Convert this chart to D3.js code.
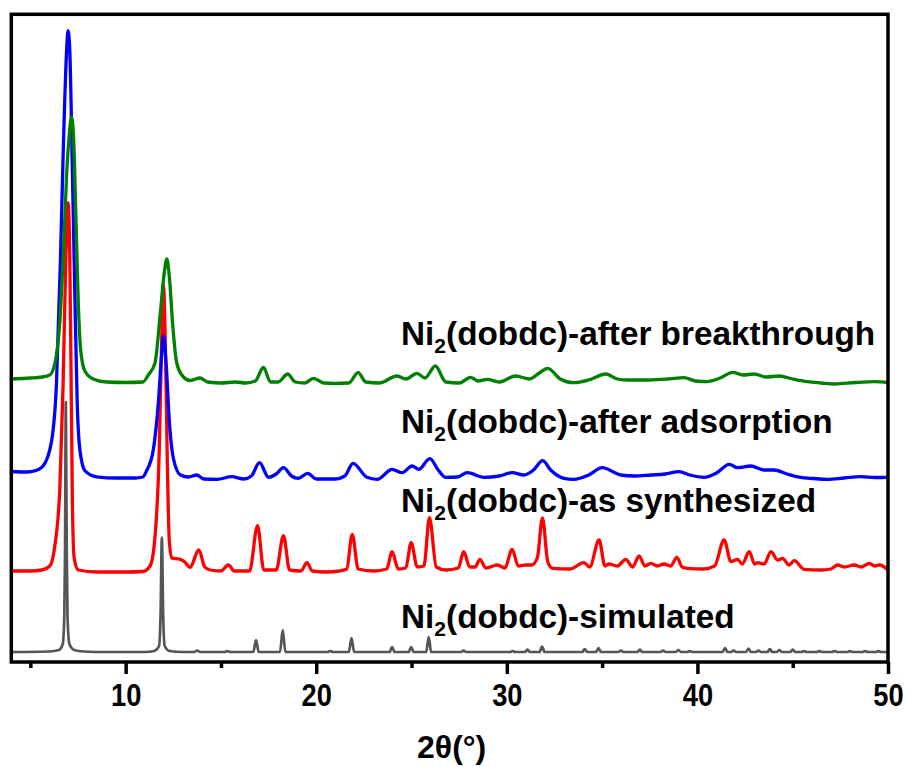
<!DOCTYPE html>
<html>
<head>
<meta charset="utf-8">
<script src="https://cdn.jsdelivr.net/npm/d3@7"></script>
<style>
  body { margin: 0; background: #fff; }
  text { font-family: "Liberation Sans", Arial, sans-serif; font-weight: bold; }
</style>
</head>
<body>
<svg id="chart" width="905" height="767"></svg>
<script>
// XRD patterns, [2theta, intensity (a.u., stacked offsets included)]
var breakthrough = [[4.0,283],[5.0,284],[5.6,285],[6.02,287],[6.29,299],[6.55,341],[6.72,403],[6.9,486],[7.04,527],[7.16,545],[7.28,519],[7.39,445],[7.51,362],[7.64,312],[7.86,291],[8.3,283],[9.0,280],[10.0,279.5],[10.9,280],[11.19,287],[11.54,299],[11.8,345],[12.03,390],[12.16,403],[12.29,386],[12.47,337],[12.68,299],[13.03,285],[13.38,281.5],[13.9,284],[14.3,280],[15.0,279],[15.75,280],[16.3,279],[16.8,281],[17.23,294.5],[17.6,280],[18.0,280],[18.5,288],[18.9,280],[19.4,279],[19.86,283.7],[20.4,279],[21.0,278.7],[21.7,279],[22.2,289.3],[22.6,280],[23.3,279],[24.24,286],[24.7,283],[25.29,288.7],[25.7,284],[26.25,296],[26.8,280],[27.5,279],[28.1,284.7],[28.5,281],[28.97,282.7],[29.6,280],[30.46,286],[31.2,283],[31.7,289],[32.15,293.7],[32.8,283],[33.5,279.3],[34.3,282],[35.19,288],[35.8,283],[36.3,282],[37.5,282],[38.5,283],[39.3,284.3],[39.9,281],[40.5,280.3],[41.2,284],[41.85,289.7],[42.4,287],[42.98,288],[43.6,285],[44.3,286],[45.0,283],[45.77,280.3],[46.5,279],[47.2,278],[48.3,279.5],[49.3,280.3],[50.0,279.3]];

var adsorption = [[4.0,190.5],[4.8,190],[5.3,191.5],[5.67,196],[6.11,220.5],[6.37,278.6],[6.58,403],[6.72,507],[6.9,610.5],[6.98,631.3],[7.07,610.5],[7.21,486],[7.34,362],[7.46,258],[7.6,212],[7.86,191.4],[8.48,185.2],[9.5,184],[10.5,184],[10.9,185],[11.1,191.4],[11.45,212],[11.71,258],[11.89,308],[11.98,326],[12.12,299.3],[12.29,241.2],[12.5,204],[12.86,187.3],[13.3,185],[13.73,187],[14.1,183],[14.8,182.7],[15.57,185.3],[16.2,183],[16.6,186],[17.02,199.3],[17.5,184.7],[17.9,188],[18.28,194.3],[18.7,186],[19.07,183.7],[19.55,188.7],[20.0,183],[21.0,183],[21.5,186],[21.93,198.7],[22.66,184.7],[23.2,182.7],[23.98,192.7],[24.5,189.3],[25.03,196],[25.38,192.7],[25.96,203.3],[26.4,192],[26.78,184.7],[27.4,185],[27.92,189.3],[28.8,184.7],[29.6,186],[30.28,189.3],[30.9,187],[31.4,192],[31.88,201.3],[32.3,192],[33.0,183.7],[33.5,182.7],[34.3,187],[35.0,194.3],[35.98,187],[36.7,186],[37.55,187],[38.3,188],[39.04,190.3],[39.6,187],[40.35,184.7],[41.0,189],[41.67,197.7],[42.1,194.3],[42.8,196],[43.5,192],[44.03,192],[44.7,188],[45.4,184.7],[46.1,183.5],[46.8,182.7],[47.7,184],[48.57,185.3],[49.3,184.5],[50.0,184.7]];

var synthesized = [[4.0,91],[5.0,91],[5.6,92],[6.02,96],[6.29,117],[6.55,175],[6.72,279],[6.86,403],[6.98,459],[7.07,403],[7.14,279],[7.21,154],[7.3,104],[7.51,92],[8.5,90],[10.0,90],[10.9,90.5],[11.28,96],[11.54,125],[11.77,216],[11.91,341],[11.98,377],[12.08,320],[12.19,195.4],[12.29,121],[12.42,104],[12.86,102.7],[13.1,100],[13.38,94.7],[13.84,112],[14.15,95],[14.43,92],[15.0,91],[15.39,97],[15.7,91],[16.5,91],[16.92,136.3],[17.25,92],[17.9,92],[18.28,126.3],[18.6,92],[19.2,91],[19.51,99.3],[19.8,91],[20.5,90],[21.2,91],[21.6,93],[21.89,127.7],[22.2,93],[23.0,91],[23.7,93],[23.98,110.3],[24.3,93],[24.7,94],[24.98,119.3],[25.3,95],[25.65,96],[25.94,144.3],[26.3,95],[26.8,92],[27.45,94],[27.74,110.3],[28.05,95],[28.35,95],[28.58,102.7],[28.9,94],[29.5,97],[29.9,94],[30.28,112.7],[30.6,96],[30.98,97],[31.3,97],[31.6,104],[31.87,144],[32.15,100],[32.4,93.7],[33.3,93],[34.05,99.3],[34.35,95],[34.84,122],[35.15,96],[35.36,98],[35.8,96],[36.24,102.7],[36.6,95],[36.94,106],[37.25,96],[37.55,98.7],[37.9,96],[38.25,98],[38.6,96],[38.92,104.7],[39.2,95],[39.48,93.7],[40.3,93],[40.9,96],[41.4,122],[41.76,100.3],[42.1,102.7],[42.35,98],[42.72,110.3],[43.0,98],[43.16,99.3],[43.5,98],[43.86,110.3],[44.2,102],[44.47,103.7],[44.8,97],[45.08,101.3],[45.6,92.7],[46.5,92],[47.0,93],[47.36,97],[47.7,95],[48.23,97],[48.6,95],[49.02,98.7],[49.3,96],[49.55,97],[50.0,92]];

var simulated = [[4.0,10],[6.0,10.5],[6.5,12],[6.7,18],[6.78,45],[6.82,110],[6.86,260],[6.91,110],[6.95,45],[7.05,18],[7.3,12],[7.8,10.5],[9.0,10],[11.0,10],[11.5,11],[11.75,16],[11.83,45],[11.9,124.5],[11.97,45],[12.05,16],[12.3,11],[13.0,10],
  [13.6,10],[13.75,11.5],[13.9,10],[15.2,10],[15.34,11],[15.48,10],[16.7,10],[16.84,22],[16.98,10],[18.1,10],[18.24,32],[18.38,10],[20.6,10],[20.74,11],[20.88,10],[21.71,10],[21.85,24],[21.99,10],[23.85,10],[23.98,15],[24.11,10],[24.85,10],[24.98,15],[25.11,10],[25.77,10],[25.9,25],[26.03,10],
  [27.6,10],[27.73,11.5],[27.86,10],[30.17,10],[30.3,11],[30.43,10],[30.95,10],[31.08,12.5],[31.21,10],[31.72,10],[31.85,15.5],[31.98,10],[33.96,10],[34.09,13],[34.22,10],[34.68,10],[34.81,14],[34.94,10],[35.85,10],[35.98,11.5],[36.11,10],[36.85,10],[36.98,12.5],[37.11,10],[38.07,10],[38.2,11.5],[38.33,10],[38.87,10],[39.0,12],[39.13,10],[39.47,10],[39.6,11],[39.73,10],
  [41.32,10],[41.45,14],[41.58,10],[41.77,10],[41.9,11.5],[42.03,10],[42.55,10],[42.68,13.5],[42.81,10],[43.07,10],[43.2,11.5],[43.33,10],[43.67,10],[43.8,13],[43.93,10],[44.17,10],[44.3,12],[44.43,10],[44.87,10],[45.0,12.5],[45.13,10],[45.47,10],[45.6,11],[45.73,10],[46.27,10],[46.4,11],[46.53,10],[47.07,10],[47.2,11],[47.33,10],[47.87,10],[48.0,11],[48.13,10],[48.67,10],[48.8,11],[48.93,10],[49.37,10],[49.5,11],[49.63,10],[50.0,10]];

var seriesNames = ["Ni2(dobdc)-simulated", "Ni2(dobdc)-as synthesized", "Ni2(dobdc)-after adsorption", "Ni2(dobdc)-after breakthrough"];
var labelTails = ["(dobdc)-simulated", "(dobdc)-as synthesized", "(dobdc)-after adsorption", "(dobdc)-after breakthrough"];
var majorTicks = [10, 20, 30, 40, 50];
var minorTicks = [5, 15, 25, 35, 45];
var xTitle = "2θ(°)";

function draw() {
  var svg = d3.select("#chart"),
      mLeft = 11.3, mRight = 888, mTop = 14.3, mBottom = 662;

  svg.append("rect").attr("width", 905).attr("height", 767).attr("fill", "#fff");

  var x = d3.scaleLinear().domain([4, 50]).range([mLeft, mRight]);
  var y = d3.scaleLinear().domain([0, 647.7]).range([mBottom, mTop]);

  var line = d3.line()
    .x(function(d) { return x(d[0]); })
    .y(function(d) { return y(d[1]); })
    .curve(d3.curveMonotoneX);

  var series = [
    { data: simulated, color: "#555555", width: 2.7 },
    { data: synthesized, color: "#ff0000", width: 3.3 },
    { data: adsorption, color: "#0000ff", width: 3.3 },
    { data: breakthrough, color: "#008000", width: 3.3 }
  ];

  svg.append("g").selectAll("path")
    .data(series).enter().append("path")
      .attr("d", function(d) { return line(d.data); })
      .attr("fill", "none")
      .attr("stroke", function(d) { return d.color; })
      .attr("stroke-width", function(d) { return d.width; })
      .attr("stroke-linejoin", "round");

  // labels, anchored in data coordinates
  var labelPos = [[24.45, 34], [24.45, 150], [24.45, 229], [24.45, 317]];
  var labels = svg.append("g").selectAll("text")
    .data(seriesNames).enter().append("text")
      .attr("x", function(d, i) { return x(labelPos[i][0]); })
      .attr("y", function(d, i) { return y(labelPos[i][1]); })
      .attr("font-size", 33.3)
      .attr("fill", "#000");
  labels.append("tspan").text("Ni");
  labels.append("tspan").attr("font-size", 21).attr("dy", 8).text("2");
  labels.append("tspan").attr("dy", -8).text(function(d, i) { return labelTails[i]; });

  // frame
  svg.append("rect")
    .attr("x", mLeft).attr("y", mTop)
    .attr("width", mRight - mLeft).attr("height", mBottom - mTop)
    .attr("fill", "none").attr("stroke", "#000").attr("stroke-width", 3.5);

  var xAxis = svg.append("g")
    .attr("transform", "translate(0," + mBottom + ")")
    .call(d3.axisBottom(x).tickValues(majorTicks).tickSize(12).tickSizeOuter(0).tickPadding(10));
  xAxis.select(".domain").remove();
  xAxis.selectAll("line").attr("stroke-width", 3.5);
  xAxis.selectAll("text")
    .attr("font-size", 31)
    .attr("fill", "#000")
    .attr("transform", "scale(0.88,1)")
    .attr("font-family", "Liberation Sans, Arial, sans-serif");

  var xMinor = svg.append("g")
    .attr("transform", "translate(0," + mBottom + ")")
    .call(d3.axisBottom(x).tickValues(minorTicks).tickSize(6).tickSizeOuter(0).tickFormat(""));
  xMinor.select(".domain").remove();
  xMinor.selectAll("line").attr("stroke-width", 3.5);

  svg.append("text")
    .attr("x", (mLeft + mRight) / 2 + 2)
    .attr("y", 758)
    .attr("text-anchor", "middle")
    .attr("font-size", 32)
    .text(xTitle);
}

draw();
</script>
</body>
</html>
